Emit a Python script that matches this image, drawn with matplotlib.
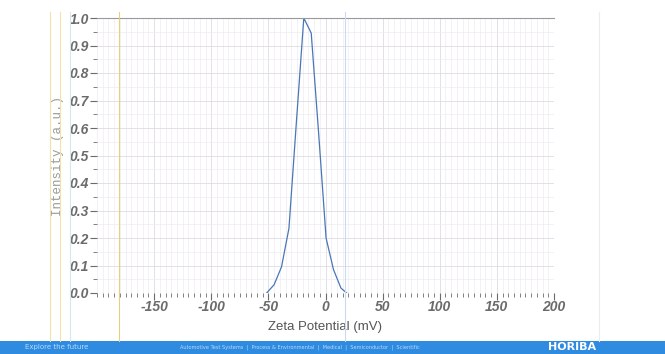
import matplotlib.pyplot as plt
from matplotlib.lines import Line2D
from matplotlib.patches import Rectangle
from matplotlib.ticker import MultipleLocator

plt.rcParams['axes.unicode_minus'] = False

# zeta potential distribution
zeta_mv = [-51.5, -45.0, -38.5, -32.0, -25.5, -19.0, -12.5, -6.0, 0.5, 7.0, 13.5, 18.5]
intensity = [0.0, 0.03, 0.095, 0.235, 0.62, 1.0, 0.945, 0.58, 0.20, 0.085, 0.018, 0.0]

x_ticks = [-150, -100, -50, 0, 50, 100, 150, 200]
y_ticks = [0.0, 0.1, 0.2, 0.3, 0.4, 0.5, 0.6, 0.7, 0.8, 0.9, 1.0]

label_grey = '#6b6b6b'

fig = plt.figure(figsize=(6.65, 3.54), dpi=100)
fig.patch.set_facecolor('white')
ax = fig.add_axes([97 / 665, 1 - 293 / 354, (554 - 97) / 665, (293 - 18) / 354])

ax.plot(zeta_mv, intensity, color='#4a76b6', linewidth=0.9)

ax.set_xlim(-200, 200)
ax.set_ylim(0, 1.0)
ax.set_xticks(x_ticks)
ax.set_yticks(y_ticks)
ax.set_yticklabels(['%.1f' % v for v in y_ticks])
ax.xaxis.set_minor_locator(MultipleLocator(5))
ax.yaxis.set_minor_locator(MultipleLocator(0.05))

ax.grid(which='major', color='#dedbe2', linewidth=0.6)
ax.grid(which='minor', color='#efecf1', linewidth=0.5)
ax.set_axisbelow(True)

for s in ['left', 'right', 'bottom']:
    ax.spines[s].set_visible(False)
ax.spines['top'].set_color('#9a9a9a')
ax.spines['top'].set_linewidth(0.8)

ax.tick_params(axis='both', which='major', colors=label_grey, length=5, width=0.8)
ax.tick_params(axis='both', which='minor', colors=label_grey, length=3, width=0.6)
ax.tick_params(axis='x', which='major', pad=0)
ax.tick_params(axis='y', which='major', pad=1)
for lab in ax.get_xticklabels() + ax.get_yticklabels():
    lab.set_fontweight('bold')
    lab.set_fontstyle('italic')
    lab.set_fontsize(10)
    lab.set_color(label_grey)
    lab.set_family('Liberation Sans')

ax.set_xlabel('Zeta Potential (mV)', fontsize=9.5, color='#555555',
              family='Liberation Sans', labelpad=5)
ax.set_ylabel('Intensity (a.u.)', fontsize=9, color='#9a9a9a',
              family='Liberation Mono', labelpad=4)

# scan artefacts: faint coloured rules across the page
for xp, col in [(50, '#efe3a8'), (60, '#efe3a8'), (70, '#d6e6f3'),
                (119, '#e8cf80'), (345, '#c9dcef'), (599, '#ececec')]:
    fig.add_artist(Line2D([xp / 665, xp / 665], [13 / 354, 1 - 12 / 354],
                          color=col, linewidth=0.8, transform=fig.transFigure))

# blue footer band
fig.add_artist(Rectangle((0, 0), 1, 13 / 354, transform=fig.transFigure,
                         facecolor='#2e8be0', edgecolor='none'))
fig.text(25 / 665, 6.5 / 354, 'Explore the future', color='#b9dcfa',
         fontsize=5, va='center', ha='left')
fig.text(180 / 665, 6.5 / 354,
         'Automotive Test Systems  |  Process & Environmental  |  Medical  |  Semiconductor  |  Scientific',
         color='#b9dcfa', fontsize=3.6, va='center', ha='left')
fig.text(572 / 665, 6.5 / 354, 'HORIBA', color='white', fontsize=8,
         fontweight='bold', va='center', ha='center', family='DejaVu Sans')

fig.savefig('out.png', dpi=100)
